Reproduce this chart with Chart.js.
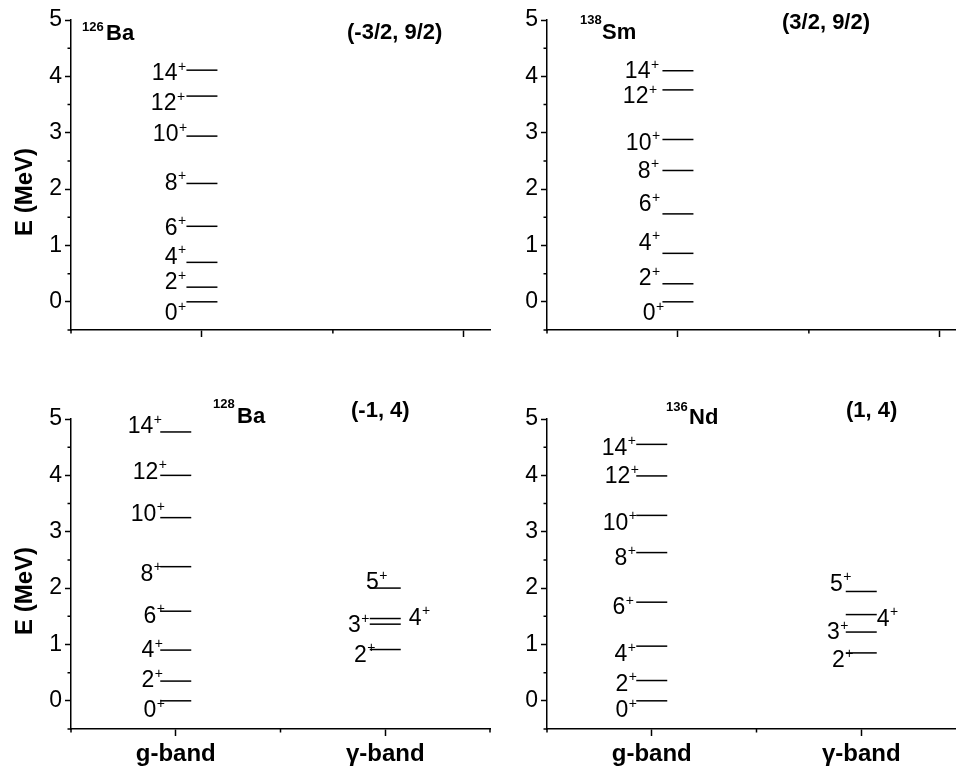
<!DOCTYPE html>
<html>
<head>
<meta charset="utf-8">
<script src="https://cdn.jsdelivr.net/npm/chart.js@4.4.1/dist/chart.umd.min.js"></script>
<style>
html,body{margin:0;padding:0;background:#fff;overflow:hidden;width:956px;height:775px}
canvas{position:absolute}
</style>
</head>
<body>
<canvas id="p1" width="500" height="400" style="left:0;top:-20px"></canvas>
<canvas id="p2" width="500" height="400" style="left:476px;top:-20px"></canvas>
<canvas id="p3" width="500" height="400" style="left:0;top:379px"></canvas>
<canvas id="p4" width="500" height="400" style="left:476px;top:379px"></canvas>
<script>
// level energies in MeV
const bandNames = ["g-band", "γ-band"]
const gSpins = ["0", "2", "4", "6", "8", "10", "12", "14"]
const gammaSpins = ["2", "3", "4", "5"]

const ba126G = [0, 0.26, 0.70, 1.34, 2.10, 2.94, 3.65, 4.11]
const sm138G = [0, 0.32, 0.86, 1.56, 2.33, 2.88, 3.76, 4.10]
const ba128G = [0, 0.35, 0.90, 1.59, 2.38, 3.25, 4.00, 4.77]
const ba128Gamma = [0.91, 1.36, 1.46, 2.00]
const nd136G = [0, 0.36, 0.97, 1.75, 2.63, 3.29, 3.99, 4.55]
const nd136Gamma = [0.85, 1.22, 1.53, 1.94]

const FONT = '"Liberation Sans", Arial, Helvetica, sans-serif'
const HALF = 15.5   // half length of a level line, px

// label nudges [side, dx, dy] in px
const offTL = [["l",-9,10],["l",-9,-6],["l",-9,-7],["l",-9,0],["l",-9,-2],["l",-8,-3],["l",-10,6],["l",-9,2]]
const offTR = [["l",-7,10],["l",-11,-7],["l",-11,-12],["l",-11,-11],["l",-12,-1],["l",-11,2],["l",-14,5],["l",-12,-1]]
const offBL = [["l",-4,8],["l",-6,-2],["l",-6,-1],["l",-4,3],["l",-7,6],["l",-4,-5],["l",-2,-5],["l",-7,-7]]
const offBLg = [["l",-3,4],["l",-9,0],["r",8,-2],["l",9,-7]]
const offBR = [["l",-8,8],["l",-8,2],["l",-9,7],["l",-11,4],["l",-9,4],["l",-8,6],["l",-6,-1],["l",-9,2]]
const offBRg = [["l",-1,6],["l",-6,-1],["r",0,3],["l",-3,-9]]

function levelSet(energies, band){
  return {
    type:"scatter",
    data: energies.map(e => ({x: band, y: e})),
    pointStyle:"line",
    pointRadius:HALF,
    pointHoverRadius:HALF,
    pointBorderColor:"#000",
    pointBorderWidth:1.5,
    pointHoverBorderWidth:1.5
  }
}

function textPlugin(cfg){
  return {
    id:"texts",
    afterDatasetsDraw(chart){
      let ctx = chart.ctx
      ctx.save()
      ctx.fillStyle = "#000"
      ctx.textBaseline = "alphabetic"
      cfg.labels.forEach((lab, di) => {
        let pts = chart.getDatasetMeta(di).data
        pts.forEach((p, i) => {
          let [side, dx, dy] = lab.off[i]
          let base = p.y + dy + 8.3
          ctx.font = "23px " + FONT
          let x0
          if(side === "l"){
            x0 = p.x - HALF + dx
            ctx.textAlign = "right"
            ctx.fillText(lab.spins[i], x0, base)
          } else {
            ctx.textAlign = "left"
            ctx.fillText(lab.spins[i], p.x + HALF + dx, base)
            x0 = p.x + HALF + dx + ctx.measureText(lab.spins[i]).width
          }
          ctx.textAlign = "left"
          ctx.font = "14px " + FONT
          ctx.fillText("+", x0 + 0.5, base - 9.5)
        })
      })
      cfg.titles.forEach(t => {
        ctx.font = t.f + " " + FONT
        ctx.textAlign = "left"
        ctx.fillText(t.t, t.x, t.y)
      })
      if(cfg.yTitle){
        ctx.translate(25, 212)
        ctx.rotate(-Math.PI/2)
        ctx.textAlign = "center"
        ctx.textBaseline = "middle"
        ctx.font = "bold 24px " + FONT
        ctx.fillText("E (MeV)", 0, 0)
      }
      ctx.restore()
    }
  }
}

const minorTicks = {
  id:"minorTicks",
  afterDraw(chart){
    let {ctx, chartArea:a, scales:{x, y}} = chart
    ctx.save()
    ctx.strokeStyle = "#000"
    ctx.lineWidth = 1.5
    ctx.beginPath()
    y.ticks.forEach(t => {
      if(!Number.isInteger(t.value)){
        let py = y.getPixelForValue(t.value)
        ctx.moveTo(a.left - 3.5, py); ctx.lineTo(a.left, py)
      }
    })
    x.ticks.forEach(t => {
      if(!Number.isInteger(t.value)){
        let px = x.getPixelForValue(t.value)
        ctx.moveTo(px, a.bottom); ctx.lineTo(px, a.bottom + 3.5)
      }
    })
    ctx.stroke()
    ctx.restore()
  }
}

function majorColor(c){
  return Number.isInteger(c.tick.value) ? "#000" : "rgba(0,0,0,0)"
}

function makePanel(id, cfg){
  let sets = [levelSet(cfg.g, 1)]
  let labels = [{spins:gSpins, off:cfg.gOff}]
  if(cfg.gamma){
    sets.push(levelSet(cfg.gamma, 2))
    labels.push({spins:gammaSpins, off:cfg.gammaOff})
  }
  return new Chart(document.getElementById(id), {
    type:"scatter",
    data:{datasets:sets},
    options:{
      responsive:false,
      animation:false,
      events:[],
      layout:{autoPadding:false, padding:{top:40, right:10, left:0, bottom:0}},
      plugins:{legend:{display:false}, tooltip:{enabled:false}},
      scales:{
        x:{
          type:"linear",
          min:0.5,
          max:cfg.xMax,
          afterFit: s => { s.height = 50 },
          border:{display:true, color:"#000", width:1.5},
          grid:{drawOnChartArea:false, tickLength:7, tickWidth:1.5, tickColor:majorColor},
          ticks:{
            stepSize:0.5,
            includeBounds:false,
            autoSkip:false,
            maxRotation:0,
            padding:4,
            color:"#000",
            font:{family:FONT, size:24, weight:"bold"},
            callback: v => (cfg.bandLabels && Number.isInteger(v)) ? bandNames[v-1] : ""
          }
        },
        y:{
          min:-0.5,
          max:5,
          afterFit: s => { s.width = 71 },
          border:{display:true, color:"#000", width:1.5},
          grid:{drawOnChartArea:false, tickLength:6, tickWidth:1.5, tickColor:majorColor},
          ticks:{
            stepSize:0.5,
            includeBounds:false,
            autoSkip:false,
            padding:3,
            color:"#000",
            font:{family:FONT, size:23},
            callback: v => Number.isInteger(v) ? String(v) : ""
          }
        }
      }
    },
    plugins:[textPlugin({labels:labels, titles:cfg.titles, yTitle:cfg.yTitle}), minorTicks]
  })
}

makePanel("p1", {
  g:ba126G, gOff:offTL, xMax:2.1, bandLabels:false, yTitle:true,
  titles:[
    {t:"126", f:"bold 13px", x:82, y:51},
    {t:"Ba", f:"bold 22px", x:106, y:60},
    {t:"(-3/2, 9/2)", f:"bold 22px", x:347, y:59}
  ]
})

makePanel("p2", {
  g:sm138G, gOff:offTR, xMax:2.1, bandLabels:false, yTitle:false,
  titles:[
    {t:"138", f:"bold 13px", x:104, y:44},
    {t:"Sm", f:"bold 22px", x:126, y:59},
    {t:"(3/2, 9/2)", f:"bold 22px", x:306, y:49}
  ]
})

makePanel("p3", {
  g:ba128G, gOff:offBL, gamma:ba128Gamma, gammaOff:offBLg, xMax:2.5, bandLabels:true, yTitle:true,
  titles:[
    {t:"128", f:"bold 13px", x:213, y:29},
    {t:"Ba", f:"bold 22px", x:237, y:44},
    {t:"(-1, 4)", f:"bold 22px", x:351, y:38}
  ]
})

makePanel("p4", {
  g:nd136G, gOff:offBR, gamma:nd136Gamma, gammaOff:offBRg, xMax:2.5, bandLabels:true, yTitle:false,
  titles:[
    {t:"136", f:"bold 13px", x:190, y:32},
    {t:"Nd", f:"bold 22px", x:213, y:45},
    {t:"(1, 4)", f:"bold 22px", x:370, y:38}
  ]
})
</script>
</body>
</html>
